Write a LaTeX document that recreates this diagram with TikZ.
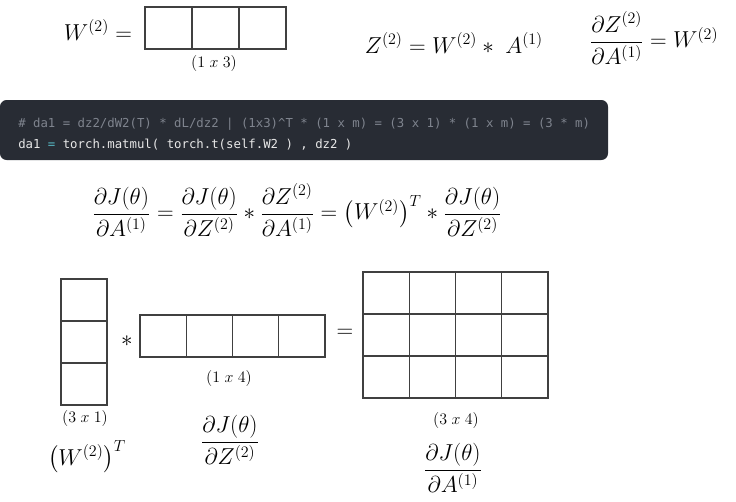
\documentclass[tikz,border=0pt]{standalone}
\usepackage{amsmath}
\usepackage{amsfonts}
\usepackage{fontspec}
\newfontfamily\codefont{DejaVu Sans Mono}
\definecolor{codebg}{HTML}{282C34}
\definecolor{codecomment}{HTML}{7F848E}
\definecolor{codetext}{HTML}{E8E8E8}
\definecolor{codeop}{HTML}{56B6C2}
\definecolor{cellline}{HTML}{404040}

\begin{document}
\begin{tikzpicture}[x=0.75pt, y=-0.75pt, inner sep=0pt,
  eq/.style = {font=\fontsize{17}{20}\selectfont},
  dim/.style = {font=\fontsize{12.5}{14}\selectfont},
  cell/.style = {draw=cellline, line width=0.9pt},
  code/.style = {anchor=west, font=\codefont\fontsize{9.25}{11}\selectfont}]
\useasboundingbox (0,0) rectangle (736,501);
% top row
\node[eq] (w2) at (98,30) {$W^{(2)}=$};
\foreach \i in {0,1,2}
  \draw[cell] (145+47*\i,7) rectangle ++(47,42);
\node[dim] (w2dim) at (214,63) {$(1\;x\;3)$};
\node[eq] (z2) at (454,43) {$Z^{(2)}=W^{(2)}*\;A^{(1)}$};
\node[eq] (dzda) at (654,38) {$\dfrac{\partial Z^{(2)}}{\partial A^{(1)}}=W^{(2)}$};
% code block
\fill[codebg, rounded corners=5pt] (0,100) rectangle (608,160);
\node[code, text=codecomment] (cmt) at (18,124) {\# da1 = dz2/dW2(T) * dL/dz2 | (1x3)\string^T * (1 x m) = (3 x 1) * (1 x m) = (3 * m)};
\node[code, text=codetext] (src) at (18,145) {da1 \textcolor{codeop}{=} torch.matmul( torch.t(self.W2 ) , dz2 )};
% chain rule
\node[eq] (chain) at (297,210) {$\dfrac{\partial J(\theta)}{\partial A^{(1)}}=\dfrac{\partial J(\theta)}{\partial Z^{(2)}}*\dfrac{\partial Z^{(2)}}{\partial A^{(1)}}=\big(W^{(2)}\big)^{T}*\dfrac{\partial J(\theta)}{\partial Z^{(2)}}$};
% bottom: (3x1) * (1x4) = (3x4)
\foreach \j in {0,1,2}
  \draw[cell] (61,279+42*\j) rectangle ++(46,42);
\node[eq] (star) at (127,341) {$*$};
\foreach \i in {0,1,2,3}
  \draw[cell] (140+46.25*\i,315) rectangle ++(46.25,42);
\node[eq] (eqs) at (345,333) {$=$};
\foreach \i in {0,1,2,3}
  \foreach \j in {0,1,2}
    \draw[cell] (363+46.25*\i,272+42*\j) rectangle ++(46.25,42);
\node[dim] (wtdim) at (85,418) {$(3\;x\;1)$};
\node[dim] (dzdim) at (229,378) {$(1\;x\;4)$};
\node[dim] (dadim) at (456,420) {$(3\;x\;4)$};
\node[eq] (wt) at (87,457) {$\big(W^{(2)}\big)^{T}$};
\node[eq] (djdz) at (230,440) {$\dfrac{\partial J(\theta)}{\partial Z^{(2)}}$};
\node[eq] (djda) at (453,468) {$\dfrac{\partial J(\theta)}{\partial A^{(1)}}$};
\end{tikzpicture}
\end{document}
